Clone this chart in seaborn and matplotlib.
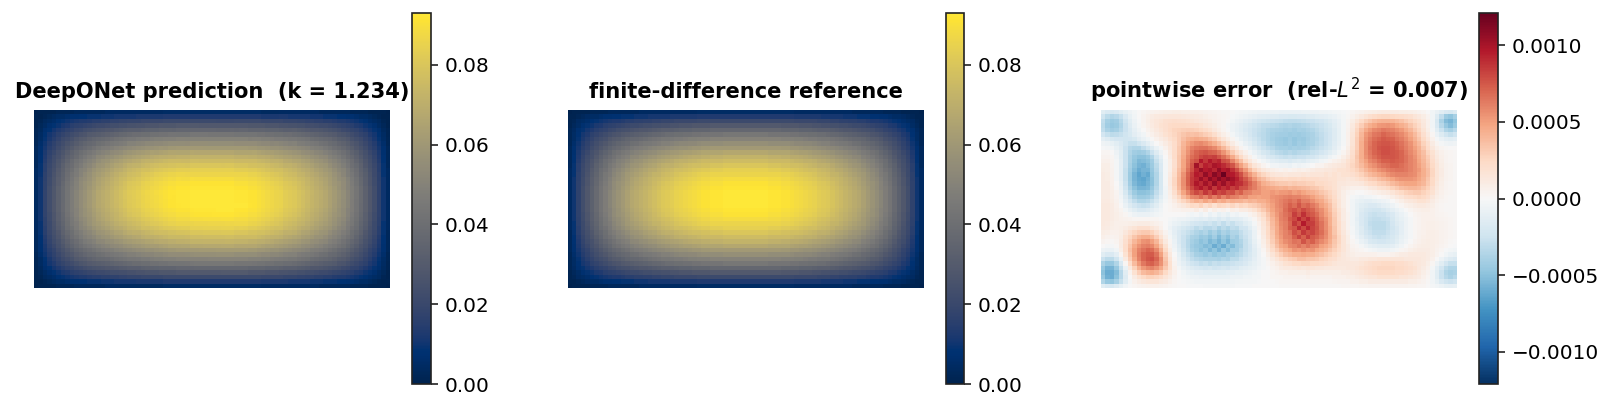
import numpy as np
import matplotlib
matplotlib.use("Agg")
import matplotlib.pyplot as plt
import seaborn as sns

# finite-difference field, top-left quarter of the 40x80 grid, units of 1e-3
# (the field is symmetric about both mid lines)
field_quarter = [
    [0,1,1,1,1,2,2,2,2,3,3,3,3,3,3,3,4,4,4,4,4,4,4,4,4,4,4,4,4,5,5,5,5,5,5,5,5,5,5,5],
    [1,1,2,3,4,5,5,6,7,7,8,8,9,9,9,10,10,10,11,11,11,11,11,12,12,12,12,12,12,13,13,13,13,13,13,13,13,13,13,13],
    [1,2,4,5,6,8,9,10,11,12,13,13,14,15,15,16,16,17,17,18,18,19,19,19,20,20,20,20,20,21,21,21,21,21,21,21,21,21,21,21],
    [1,3,5,7,9,10,12,13,15,16,17,18,19,20,21,21,22,23,23,24,24,25,25,26,26,27,27,27,28,28,28,28,29,29,29,29,29,29,29,29],
    [2,4,7,9,11,13,15,17,18,20,21,23,24,25,26,27,28,28,29,30,31,32,32,32,33,34,34,34,35,35,35,35,36,36,36,36,36,36,36,36],
    [2,5,8,11,13,16,18,20,22,24,26,27,29,30,31,32,33,34,35,36,37,38,39,39,40,40,41,41,42,42,43,43,43,43,43,44,44,44,44,44],
    [2,5,9,12,15,18,21,23,25,28,30,31,33,35,36,37,38,39,41,42,43,44,44,45,46,46,47,48,48,49,49,49,50,50,50,50,50,50,50,50],
    [2,6,10,14,17,20,23,26,28,31,33,35,37,38,40,41,43,44,45,46,47,49,49,50,51,52,52,53,53,54,55,55,55,55,55,56,56,56,56,56],
    [3,7,11,15,18,22,25,28,31,34,36,38,40,42,44,46,47,48,50,51,52,53,54,55,56,57,57,58,59,59,60,60,61,61,61,61,61,61,61,61],
    [3,7,12,17,20,24,27,31,34,37,40,42,44,46,48,50,51,53,54,55,57,58,59,60,61,62,63,63,64,65,66,66,66,66,66,67,67,67,67,67],
    [3,8,13,18,22,25,29,33,36,39,42,45,47,49,52,53,55,56,58,59,61,62,63,64,65,66,67,68,69,69,70,70,71,71,71,72,72,72,72,72],
    [3,8,14,19,23,27,31,35,39,42,45,48,50,52,55,57,58,60,62,63,65,66,67,68,70,71,71,72,73,74,75,75,75,75,75,76,76,76,76,76],
    [3,9,15,20,24,28,33,37,40,44,47,50,52,55,58,59,61,63,65,66,68,70,71,71,73,74,75,76,77,77,78,78,79,79,79,80,80,80,80,80],
    [4,9,15,21,25,30,34,39,42,46,50,52,55,58,60,62,64,66,68,69,71,73,74,75,77,77,78,79,80,81,82,82,83,83,83,84,84,84,84,84],
    [4,9,16,21,26,31,35,40,44,47,51,54,57,60,62,64,66,68,70,72,73,75,76,77,79,80,81,82,83,84,85,85,86,86,86,86,86,86,86,86],
    [4,10,16,22,27,32,36,41,45,49,53,55,58,61,64,66,68,70,72,74,75,77,78,79,81,82,83,84,85,86,87,87,88,88,88,89,89,89,89,89],
    [4,10,17,22,27,32,37,42,46,50,54,57,59,62,65,67,69,71,73,75,77,79,80,81,83,84,85,86,87,88,89,89,90,90,90,91,91,91,91,91],
    [4,10,17,23,28,33,38,43,47,50,54,57,60,63,66,68,70,72,74,76,78,80,81,82,84,85,86,87,88,89,90,90,91,91,91,92,92,92,92,92],
    [4,10,17,23,28,33,38,43,47,51,55,58,61,64,67,69,71,73,75,77,79,81,82,83,85,86,87,88,89,90,91,91,92,92,92,93,93,93,93,93],
    [4,10,17,23,28,33,38,43,47,51,55,58,61,64,67,69,71,73,75,77,79,81,82,83,85,86,87,88,89,90,91,91,92,92,92,93,93,93,93,93],
]

# prediction minus reference, 40 rows x 80 columns, units of 1e-5
error_rows = [
    [-14,-18,-20,-18,-14,-10,-6,-3,0,2, 4,5,6,7,8,8,9,9,8,8, 7,7,6,5,4,3,2,1,1,0, -1,-2,-3,-4,-5,-6,-6,-7,-7,-7, -8,-8,-8,-8,-8,-7,-7,-6,-6,-5, -5,-4,-3,-2,-1,0,2,4,5,7, 8,9,10,11,11,10,10,9,9,8, 7,5,3,0,-4,-9,-14,-18,-20,-17],
    [-24,-32,-36,-34,-28,-18,-10,-4,0,4, 7,10,12,13,14,15,15,15,14,13, 12,11,10,8,6,5,3,2,1,-1, -3,-5,-7,-9,-11,-13,-14,-15,-16,-17, -18,-18,-19,-19,-18,-18,-17,-16,-14,-13, -12,-10,-8,-5,-2,1,5,9,13,17, 20,23,25,26,26,25,24,23,21,19, 16,13,9,4,-4,-16,-30,-44,-48,-40],
    [-30,-40,-44,-42,-34,-24,-14,-6,-1,4, 8,12,15,17,19,20,21,20,19,18, 17,15,13,11,9,6,4,2,0,-3, -6,-9,-12,-15,-18,-21,-23,-25,-26,-27, -28,-30,-31,-31,-30,-29,-27,-26,-24,-22, -19,-16,-12,-8,-3,3,9,16,23,29, 34,38,41,42,42,41,38,35,31,27, 23,18,12,6,-4,-20,-38,-52,-56,-48],
    [-32,-42,-46,-44,-36,-26,-16,-8,-2,3, 7,11,15,18,20,23,24,24,24,23, 22,21,18,15,12,9,5,2,-2,-6, -9,-13,-17,-20,-24,-27,-30,-31,-33,-34, -36,-37,-36,-38,-37,-35,-34,-31,-29,-26, -23,-19,-14,-9,-3,4,12,22,30,38, 44,48,52,53,54,52,48,44,40,34, 28,22,14,6,-4,-18,-34,-46,-52,-44],
    [-30,-38,-42,-40,-34,-26,-18,-11,-5,0, 5,9,13,17,20,24,27,28,29,30, 29,28,25,22,18,13,8,3,-1,-6, -10,-14,-18,-22,-26,-29,-32,-35,-37,-38, -39,-41,-40,-42,-39,-40,-37,-35,-32,-28, -25,-21,-16,-10,-3,5,14,26,36,46, 52,58,60,64,62,60,56,52,46,40, 33,26,17,8,-2,-14,-26,-36,-40,-34],
    [-22,-28,-32,-31,-28,-24,-19,-13,-8,-4, 2,6,10,14,18,22,26,30,34,36, 35,36,34,30,27,21,14,8,3,-3, -8,-12,-16,-21,-26,-30,-33,-36,-39,-41, -42,-42,-44,-43,-44,-42,-40,-38,-34,-30, -26,-22,-16,-10,-3,6,16,28,40,52, 58,64,66,70,68,66,62,58,52,46, 38,30,20,11,2,-8,-17,-24,-28,-24],
    [-12,-16,-20,-22,-22,-23,-22,-19,-13,-8, -4,1,6,10,14,19,24,30,36,42, 44,46,44,42,36,32,24,16,9,3, -3,-9,-14,-18,-24,-28,-33,-36,-40,-43, -44,-46,-43,-47,-44,-45,-41,-38,-35,-31, -26,-22,-16,-10,-3,6,17,30,42,54, 62,68,70,74,72,71,66,62,56,50, 42,34,24,15,6,-2,-8,-12,-14,-12],
    [-5,-7,-10,-14,-18,-24,-28,-28,-24,-18, -12,-6,0,5,10,16,22,30,40,48, 52,56,58,54,50,44,36,28,18,10, 3,-3,-9,-14,-20,-26,-30,-35,-38,-42, -43,-45,-42,-46,-42,-44,-40,-38,-34,-30, -26,-21,-15,-9,-2,6,17,30,44,56, 64,70,74,76,76,74,70,66,60,54, 46,38,28,19,10,3,-2,-5,-6,-5],
    [-1,-2,-4,-10,-16,-26,-34,-36,-36,-30, -24,-16,-8,-2,6,14,22,32,42,52, 60,64,66,66,62,58,50,40,30,20, 12,4,-2,-8,-14,-20,-26,-30,-34,-38, -40,-40,-42,-40,-41,-40,-37,-34,-31,-27, -24,-19,-13,-7,0,8,18,30,44,56, 66,70,76,78,78,76,72,68,62,56, 50,42,32,22,14,7,3,1,0,0],
    [2,2,0,-6,-14,-26,-36,-42,-44,-42, -36,-26,-16,-6,2,12,22,32,44,54, 64,70,74,76,72,70,64,54,44,32, 22,14,6,-2,-8,-14,-20,-24,-28,-32, -34,-36,-34,-36,-34,-33,-32,-28,-26,-22, -18,-14,-9,-3,3,10,20,32,44,56, 64,70,74,78,78,76,74,70,64,58, 52,44,36,26,18,10,6,3,2,1],
    [4,4,2,-4,-14,-26,-38,-46,-50,-50, -46,-36,-24,-12,0,10,22,34,46,58, 68,72,80,84,82,84,76,68,58,46, 34,24,14,6,-2,-8,-12,-18,-20,-24, -26,-28,-26,-28,-26,-26,-23,-22,-18,-14, -12,-6,-2,2,8,14,22,34,44,54, 62,68,72,76,76,76,74,70,66,60, 54,46,38,30,20,12,7,4,2,1],
    [6,6,3,-2,-12,-26,-38,-48,-54,-52, -50,-42,-28,-16,-2,8,20,34,48,60, 72,78,96,86,96,88,92,78,74,60, 48,36,24,14,6,0,-4,-8,-12,-14, -16,-16,-18,-16,-14,-16,-12,-10,-8,-4, -2,2,6,8,12,18,24,32,42,50, 58,62,68,72,72,74,72,70,66,60, 56,48,40,32,22,14,8,4,2,1],
    [8,8,4,-2,-12,-26,-40,-50,-56,-58, -52,-44,-32,-18,-2,8,20,34,48,62, 76,102,84,94,90,100,96,90,84,76, 62,50,38,26,16,10,4,0,-4,-4, -6,-6,-8,-4,-6,-4,-2,0,4,4, 8,10,12,14,16,20,26,32,38,46, 52,56,62,66,68,70,70,68,64,60, 56,50,42,34,24,16,9,5,3,1],
    [9,8,5,-2,-12,-28,-42,-52,-60,-56, -56,-46,-34,-18,-2,8,22,36,50,66, 78,92,104,96,100,92,106,96,100,88, 78,64,52,38,28,20,14,10,8,6, 4,6,4,6,8,6,8,10,12,12, 14,14,16,18,18,20,24,28,34,40, 46,50,54,58,62,64,66,66,64,60, 56,52,44,36,26,16,10,5,3,1],
    [10,9,5,-2,-12,-28,-44,-56,-64,-58, -62,-48,-36,-20,-2,10,24,38,54,70, 84,96,92,106,96,110,102,120,98,96, 88,78,64,52,42,32,26,20,16,14, 14,12,14,14,14,16,14,16,16,16, 18,16,18,16,18,18,20,24,28,34, 38,42,46,50,54,58,60,60,60,58, 56,50,44,36,26,16,10,5,3,1],
    [10,9,6,-2,-12,-28,-44,-56,-62,-64, -58,-50,-36,-20,-2,12,26,40,56,72, 86,92,104,94,108,100,110,102,108,102, 94,84,74,64,52,42,36,30,26,24, 24,22,24,24,22,24,22,22,22,20, 20,18,18,16,16,14,16,18,22,26, 30,32,36,40,44,48,52,54,54,54, 52,48,42,34,24,16,9,5,3,1],
    [10,10,6,0,-10,-26,-42,-54,-60,-62, -56,-50,-36,-20,-2,12,26,40,56,72, 86,98,90,102,92,106,94,104,92,98, 90,88,80,70,62,52,44,40,36,34, 32,32,30,32,30,30,28,28,24,24, 22,20,18,14,14,12,12,12,14,18, 22,24,28,30,34,38,42,46,48,48, 48,44,40,32,24,14,8,4,2,1],
    [10,10,7,1,-8,-24,-38,-50,-56,-56, -54,-46,-34,-20,-4,10,24,38,54,68, 80,90,98,88,100,86,96,88,94,84, 88,78,76,68,62,54,50,48,46,44, 42,44,40,42,40,38,36,34,32,28, 24,22,18,14,10,8,6,6,6,8, 12,14,18,20,24,28,32,36,38,40, 40,38,34,28,20,12,7,4,2,1],
    [10,10,8,3,-6,-20,-34,-44,-50,-50, -48,-42,-30,-18,-4,8,20,34,48,60, 72,80,74,86,78,88,80,84,76,78, 68,72,62,60,54,54,50,50,52,50, 52,52,54,50,52,48,44,42,38,34, 30,26,20,14,8,4,2,0,0,2, 4,6,8,10,12,16,20,24,28,30, 32,32,28,24,18,10,6,3,2,1],
    [10,10,8,4,-4,-16,-28,-38,-44,-44, -42,-36,-26,-14,-4,6,16,26,38,48, 58,60,68,60,70,62,70,60,68,62, 60,54,56,50,50,48,50,50,54,56, 58,60,62,60,60,56,54,50,44,40, 34,28,22,14,8,2,-2,-4,-6,-4, -4,-2,0,2,4,8,12,16,20,22, 24,26,24,20,14,8,5,2,1,1],
    [11,11,9,5,-2,-12,-22,-30,-36,-36, -34,-28,-20,-10,-2,4,10,18,26,32, 38,44,40,48,42,50,42,46,40,44, 42,42,38,42,40,44,44,48,52,56, 60,64,68,64,70,62,62,56,50,46, 38,32,24,16,8,2,-4,-8,-10,-12, -12,-10,-8,-6,-4,0,4,8,12,14, 16,18,18,16,10,6,3,2,1,1],
    [12,12,10,6,0,-8,-16,-22,-26,-28, -26,-20,-14,-6,0,2,6,10,14,18, 24,22,28,20,26,18,26,24,20,26, 20,26,24,28,30,34,38,44,50,56, 60,66,72,68,76,68,70,64,58,50, 44,36,26,16,8,2,-4,-10,-14,-16, -18,-18,-16,-12,-10,-6,-2,2,6,8, 10,12,12,10,8,4,2,1,1,1],
    [12,12,10,7,3,-3,-9,-14,-18,-18, -16,-12,-8,-4,0,2,4,4,6,6, 6,10,4,10,2,8,4,6,2,8, 6,10,10,14,18,26,32,40,48,54, 58,68,74,78,72,80,74,70,62,56, 48,38,28,18,10,2,-4,-10,-16,-20, -22,-24,-24,-20,-16,-12,-8,-4,0,3, 6,7,8,8,6,4,2,1,1,1],
    [12,12,10,8,5,2,-2,-6,-8,-8, -8,-6,-4,-2,0,0,0,0,0,-2, -4,-2,-6,-2,-8,-4,-10,-6,-10,-4, -6,-2,-2,4,8,16,24,34,44,52, 60,66,70,84,76,88,78,74,68,58, 50,42,30,20,10,4,-4,-10,-18,-22, -26,-28,-26,-26,-22,-18,-12,-8,-4,0, 3,5,6,6,6,4,3,2,1,1],
    [12,12,10,8,6,5,4,2,2,2, 2,2,2,0,0,-2,-4,-6,-6,-8, -10,-12,-14,-12,-16,-14,-18,-14,-18,-14, -14,-12,-8,-4,2,10,18,30,40,50, 60,64,74,80,92,82,90,80,72,62, 54,44,32,20,10,4,-4,-12,-18,-24, -28,-30,-30,-28,-26,-20,-14,-10,-6,-2, 2,4,6,6,6,5,4,3,2,1],
    [12,11,9,7,7,7,8,9,10,10, 10,8,6,4,0,-4,-8,-10,-14,-16, -20,-22,-24,-26,-24,-28,-24,-30,-24,-28, -22,-20,-14,-10,-2,6,16,26,38,48, 58,62,70,86,78,96,84,84,74,66, 56,44,32,22,12,4,-4,-10,-18,-24, -30,-32,-32,-32,-28,-22,-16,-12,-6,-2, 2,4,6,7,7,6,5,4,2,1],
    [11,10,8,7,8,10,14,17,20,20, 20,16,12,6,0,-6,-12,-16,-20,-24, -26,-32,-28,-34,-34,-30,-38,-32,-36,-30, -32,-24,-22,-14,-6,4,14,24,36,46, 56,62,72,76,90,80,92,82,76,66, 56,46,34,22,12,4,-2,-10,-16,-24, -28,-32,-32,-32,-28,-24,-18,-12,-6,-2, 2,4,6,7,7,6,5,4,2,1],
    [9,8,6,6,8,14,20,26,30,32, 32,28,20,12,4,-4,-12,-18,-24,-28, -32,-36,-40,-36,-44,-38,-46,-38,-42,-36, -36,-30,-24,-18,-8,2,12,24,34,46, 54,60,66,78,72,86,78,82,74,68, 58,46,34,24,14,6,-2,-8,-16,-22, -26,-30,-30,-30,-26,-22,-18,-12,-6,-2, 2,5,6,8,8,7,5,4,2,1],
    [7,5,4,5,9,18,26,34,40,44, 44,38,30,18,8,-2,-10,-18,-26,-32, -38,-40,-46,-44,-50,-42,-52,-44,-50,-38, -42,-32,-26,-18,-8,0,10,22,32,44, 52,60,62,72,82,72,84,74,70,64, 56,46,36,26,16,8,0,-6,-12,-18, -22,-26,-28,-26,-24,-20,-16,-10,-6,-2, 2,5,7,8,8,7,5,4,2,1],
    [4,2,1,3,10,20,30,40,48,54, 56,50,40,26,12,2,-8,-18,-26,-34, -40,-44,-50,-46,-54,-50,-56,-48,-54,-44, -42,-36,-28,-20,-10,-2,8,18,30,40, 50,56,60,66,64,76,68,72,64,58, 52,44,34,26,16,8,2,-2,-8,-12, -18,-20,-22,-22,-20,-18,-14,-8,-4,0, 4,6,8,9,8,7,5,3,1,0],
    [0,-2,-2,1,10,22,34,46,54,60, 62,58,48,34,18,4,-6,-16,-26,-34, -42,-46,-48,-52,-50,-60,-52,-60,-48,-52, -42,-38,-28,-22,-12,-4,6,16,26,36, 46,50,58,60,66,60,66,60,58,50, 46,40,32,24,16,10,4,2,-2,-6, -10,-12,-14,-14,-14,-12,-8,-4,0,3, 6,8,9,9,8,6,4,2,0,-1],
    [-6,-8,-8,-4,8,22,36,50,60,66, 70,68,58,42,24,8,-4,-14,-24,-32, -40,-44,-50,-46,-54,-48,-56,-46,-52,-42, -42,-34,-28,-22,-14,-6,2,12,22,30, 38,44,48,54,52,56,52,54,48,44, 40,34,28,22,16,10,6,4,2,0, -2,-4,-6,-6,-6,-4,-2,2,4,7, 9,10,10,10,8,5,2,-1,-3,-4],
    [-14,-18,-18,-12,2,18,34,50,62,70, 74,74,66,50,30,12,0,-10,-20,-28, -34,-40,-42,-46,-42,-48,-44,-46,-40,-40, -36,-32,-26,-20,-14,-6,0,8,16,24, 30,36,40,44,44,46,44,44,40,36, 32,28,24,18,14,10,8,6,6,6, 6,6,4,4,4,6,8,10,10,12, 12,12,12,10,8,4,0,-4,-8,-10],
    [-26,-32,-32,-24,-8,12,30,46,60,70, 76,78,70,56,34,16,2,-8,-16,-24, -30,-34,-36,-38,-38,-38,-40,-36,-38,-32, -32,-26,-22,-18,-12,-6,-2,4,10,16, 22,26,30,32,36,36,34,34,32,28, 26,22,20,16,14,12,10,10,12,12, 14,14,16,16,16,16,16,16,14,14, 14,14,12,10,6,0,-6,-12,-16,-18],
    [-38,-46,-46,-36,-18,2,22,38,52,64, 70,72,66,54,36,18,4,-6,-12,-18, -24,-26,-30,-28,-32,-28,-30,-28,-28,-26, -24,-22,-18,-14,-10,-6,-2,2,6,10, 14,18,20,24,24,26,26,24,24,22, 20,18,16,14,14,14,14,14,16,18, 20,22,22,24,24,24,22,22,20,18, 16,14,12,8,2,-6,-14,-22,-28,-28],
    [-46,-56,-56,-46,-28,-8,12,28,42,52, 58,60,54,46,32,18,6,-2,-8,-12, -16,-18,-20,-22,-20,-24,-22,-20,-22,-18, -18,-14,-12,-10,-8,-4,-2,0,4,6, 10,12,12,14,16,14,16,16,14,14, 12,12,12,12,12,14,14,16,18,20, 22,24,26,26,26,26,24,24,22,20, 18,14,10,6,-2,-12,-22,-32,-36,-36],
    [-50,-60,-60,-52,-34,-14,4,18,30,38, 42,44,40,34,24,14,6,0,-4,-8, -10,-12,-12,-14,-14,-14,-14,-14,-12,-12, -10,-10,-8,-6,-4,-2,0,0,2,4, 6,6,8,8,8,8,10,8,8,8, 8,8,8,8,10,10,12,14,16,18, 20,22,24,24,24,24,22,22,20,18, 16,12,8,4,-4,-14,-26,-36,-40,-38],
    [-46,-58,-60,-50,-34,-16,0,10,18,24, 28,28,26,22,16,10,4,0,-2,-4, -6,-6,-8,-8,-8,-8,-8,-8,-8,-6, -6,-6,-4,-4,-2,-2,0,0,2,2, 2,4,4,4,4,4,6,4,4,4, 4,4,6,6,6,8,8,10,12,14, 16,16,18,18,18,18,18,16,16,14, 12,10,6,2,-4,-14,-26,-34,-38,-34],
    [-36,-46,-48,-40,-28,-14,-2,6,10,14, 16,16,16,12,10,6,2,0,-1,-2, -3,-4,-4,-4,-4,-4,-4,-4,-4,-4, -3,-3,-2,-2,-2,-1,0,0,0,1, 2,2,2,2,2,2,2,2,2,2, 2,2,3,4,4,4,6,6,8,8, 10,10,10,10,10,10,10,10,10,8, 8,6,4,1,-4,-10,-18,-24,-26,-24],
    [-14,-18,-20,-16,-10,-4,0,2,4,5, 6,6,6,5,4,2,1,0,0,-1, -1,-1,-1,-2,-2,-2,-2,-2,-2,-2, -1,-1,-1,-1,0,0,0,0,0,0, 1,1,1,1,1,1,1,1,1,1, 1,1,1,1,2,2,2,2,3,3, 4,4,4,4,4,4,4,4,4,3, 3,2,2,0,-2,-4,-7,-10,-11,-10],
]

titles = ["DeepONet prediction  (k = 1.234)", "finite-difference reference",
          r"pointwise error  (rel-$L^2$ = 0.007)"]
field_ticks = [0.0, 0.02, 0.04, 0.06, 0.08]
field_ticklabels = ["0.00", "0.02", "0.04", "0.06", "0.08"]
error_ticks = [-0.001, -0.0005, 0.0, 0.0005, 0.001]
error_ticklabels = ["\u22120.0010", "\u22120.0005", "0.0000", "0.0005", "0.0010"]

sns.set_theme(style="white", font="DejaVu Sans")
W, H = 1616, 412


def box(x0, x1, y0, y1):
    # pixel box of the reference -> figure fractions
    return [x0 / W, 1 - y1 / H, (x1 - x0) / W, (y1 - y0) / H]


q = np.array(field_quarter, dtype=float) * 1e-3
top = np.hstack([q, np.fliplr(q)])
reference = np.vstack([top, np.flipud(top)])
error = np.array(error_rows, dtype=float) * 1e-5
prediction = reference + error

fig = plt.figure(figsize=(W / 200, H / 200), dpi=200)
panels = [
    (prediction, "cividis", 0.0, 0.093, field_ticks, field_ticklabels, 34.0),
    (reference, "cividis", 0.0, 0.093, field_ticks, field_ticklabels, 567.5),
    (error, "RdBu_r", -0.00121, 0.00121, error_ticks, error_ticklabels, 1101.0),
]
for (data, cmap, vmin, vmax, ticks, ticklabels, left), title in zip(panels, titles):
    ax = fig.add_axes(box(left, left + 356, 110, 288))
    cax = fig.add_axes(box(left + 378, left + 396.5, 13, 384))
    sns.heatmap(data, ax=ax, cbar_ax=cax, cmap=cmap, vmin=vmin, vmax=vmax,
                xticklabels=False, yticklabels=False)
    ax.set_title(title, fontsize=7.55, fontweight="bold", pad=4.2, color="black")
    cbar = ax.collections[0].colorbar
    cbar.set_ticks(ticks)
    cbar.set_ticklabels(ticklabels)
    cbar.outline.set_visible(True)
    cbar.outline.set_linewidth(0.6)
    cbar.outline.set_edgecolor("#222222")
    cax.tick_params(axis="y", right=True, length=2.5, width=0.6, pad=2.5,
                    labelsize=7.2, labelcolor="black", color="#222222")

fig.savefig("out.png", dpi=200)
